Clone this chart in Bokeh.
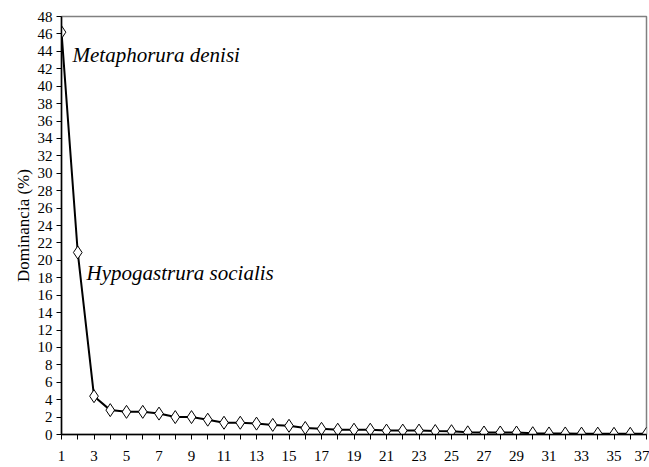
from bokeh.plotting import figure
from bokeh.models import FixedTicker, Range1d, Label
from bokeh.embed import file_html
from bokeh.resources import INLINE

ranks = list(range(1, 38))
dominance = [46.2, 20.9, 4.4, 2.8, 2.6, 2.6, 2.4, 2.0, 2.0, 1.7,
             1.35, 1.35, 1.25, 1.1, 1.0, 0.75, 0.65, 0.55, 0.55, 0.55,
             0.45, 0.45, 0.45, 0.4, 0.38, 0.25, 0.23, 0.23, 0.23, 0.15,
             0.12, 0.12, 0.1, 0.1, 0.08, 0.08, 0.08]
x_ticks = list(range(1, 38))
y_ticks = list(range(0, 49, 2))
species_labels = ["Metaphorura denisi", "Hypogastrura socialis"]

FONT = "Times New Roman"

p = figure(width=649, height=467, output_backend="svg", toolbar_location=None,
           x_range=Range1d(1, 37), y_range=Range1d(0, 48),
           min_border_left=61, min_border_right=3, min_border_top=16, min_border_bottom=33)
p.grid.visible = False
p.outline_line_color = "#808080"
p.outline_line_width = 1.5

p.line(ranks, dominance, line_color="black", line_width=2)
p.scatter(ranks, dominance, marker="diamond", size=13, fill_color="white",
          line_color="black", line_width=1)

p.xaxis.ticker = FixedTicker(ticks=x_ticks)
p.xaxis.major_label_overrides = {t: (str(t) if t % 2 == 1 else "") for t in x_ticks}
p.yaxis.ticker = FixedTicker(ticks=y_ticks)

for ax in (p.xaxis[0], p.yaxis[0]):
    ax.axis_line_color = "black"
    ax.axis_line_width = 1.5
    ax.major_tick_line_color = "black"
    ax.major_tick_in = 0
    ax.major_tick_out = 5
    ax.minor_tick_line_color = None
    ax.major_label_text_font = FONT
    ax.major_label_text_font_size = "15px"
    ax.major_label_text_color = "black"

p.xaxis.major_label_standoff = 11
p.yaxis.major_label_standoff = 4
p.yaxis.axis_label = "Dominancia (%)"
p.yaxis.axis_label_text_font = FONT
p.yaxis.axis_label_text_font_style = "normal"
p.yaxis.axis_label_text_font_size = "17px"
p.yaxis.axis_label_text_color = "black"
p.yaxis.axis_label_standoff = 2

p.add_layout(Label(x=1.68, y=43.6, text=species_labels[0], text_font=FONT,
                   text_font_style="italic", text_font_size="21px",
                   text_baseline="alphabetic", text_color="black"))
p.add_layout(Label(x=2.54, y=18.6, text=species_labels[1], text_font=FONT,
                   text_font_style="italic", text_font_size="21px",
                   text_baseline="alphabetic", text_color="black"))

open("out.html", "w").write(file_html(p, INLINE))
